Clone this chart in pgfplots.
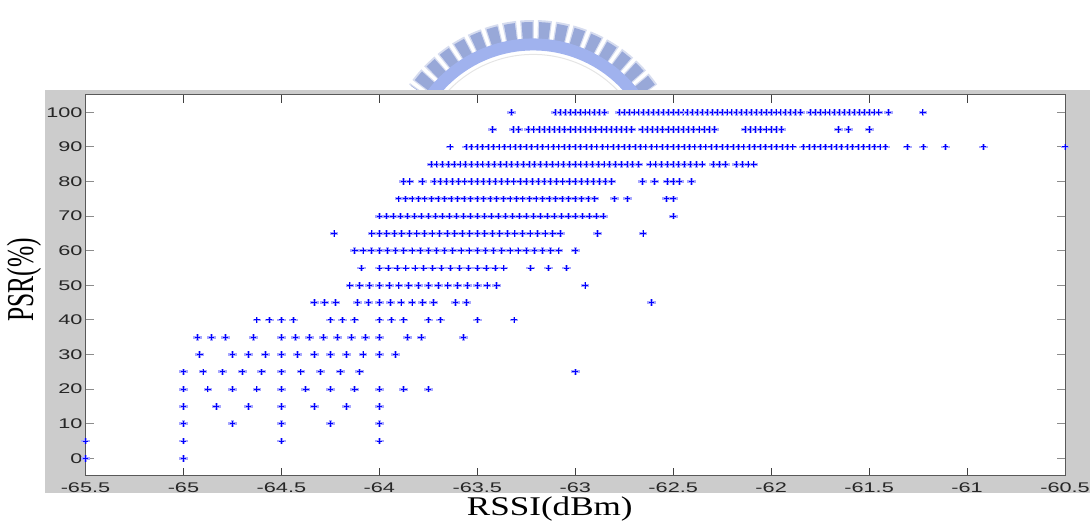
\documentclass[border=0pt]{standalone}
\usepackage{fontspec}
\usepackage{pgfplots}
\pgfplotsset{compat=1.18}
\setmainfont{Liberation Sans}
\newfontfamily\tickfont[FakeStretch=1.55]{Liberation Sans}
\newfontfamily\labfont[FakeStretch=1.3]{Liberation Serif}
\newfontfamily\ylabfont[FakeStretch=0.67]{Liberation Serif}
\definecolor{framegray}{HTML}{CCCCCC}
\definecolor{logoband}{HTML}{A0B2EE}
\definecolor{logotooth}{HTML}{98A8D8}
\definecolor{halo}{HTML}{A8A8FF}
\pgfdeclareplotmark{fuzzystar}{%
  \pgfscope
  \pgfsetcolor{halo}%
  \pgfpathrectangle{\pgfpoint{-4.4pt}{-1.4pt}}{\pgfpoint{8.8pt}{2.8pt}}\pgfusepath{fill}%
  \pgfpathrectangle{\pgfpoint{-1.4pt}{-3.3pt}}{\pgfpoint{2.8pt}{6.6pt}}\pgfusepath{fill}%
  \endpgfscope
  \pgfscope
  \pgfsetcolor{blue}\pgfsetlinewidth{1pt}%
  \pgfpathmoveto{\pgfpoint{-2.8pt}{0pt}}\pgfpathlineto{\pgfpoint{2.8pt}{0pt}}\pgfusepath{stroke}%
  \pgfpathmoveto{\pgfpoint{0pt}{-3.2pt}}\pgfpathlineto{\pgfpoint{0pt}{3.2pt}}\pgfusepath{stroke}%
  \endpgfscope
}
\begin{document}
\begin{tikzpicture}[x=1pt,y=1pt]
\useasboundingbox (0,0) rectangle (1090,526);
\begin{scope}
\clip (0,430) rectangle (1090,526);
\draw[logotooth!40,line width=23pt,dash pattern=on 13pt off 3.7pt] (533+140*0.82,355+140*0.57) arc[start angle=35,end angle=145,radius=140];
\draw[logotooth,line width=19pt,dash pattern=on 10.5pt off 6.2pt,dash phase=-1.2pt] (533+140*0.82,355+140*0.57) arc[start angle=35,end angle=145,radius=140];
\draw[logoband,line width=12pt] (533+127*0.82,355+127*0.57) arc[start angle=35,end angle=145,radius=127];
\draw[black!10,line width=1pt] (533+117*0.82,355+117*0.57) arc[start angle=35,end angle=145,radius=117];
\end{scope}
\fill[framegray] (45,33) rectangle (1090,436);
\begin{axis}[
  at={(85.5pt,50.3pt)},anchor=south west,
  scale only axis,width=979.5pt,height=380.7pt,
  xmin=-65.5,xmax=-60.5,ymin=-5,ymax=105,
  clip=false,
  axis background/.style={fill=white},
  axis line style={draw=black!65,line width=1pt},
  tick align=inside,
  xtick={-65.5,-65,-64.5,-64,-63.5,-63,-62.5,-62,-61.5,-61,-60.5},
  xticklabels={-65.5,-65,-64.5,-64,-63.5,-63,-62.5,-62,-61.5,-61,-60.5},
  ytick={0,10,20,30,40,50,60,70,80,90,100},
  xtick style={draw=black!75,line width=.8pt},
  ytick style={draw=black!45,line width=1pt},
  major tick length=8pt,
  tick label style={font=\tickfont\fontsize{14}{14}\selectfont,text=black!85},
  yticklabel style={xshift=0.5pt},
  xticklabel style={yshift=-3.5pt},
  yticklabel={\pgfmathprintnumber[assume math mode=true]{\tick}},
  xlabel={RSSI(dBm)},
  ylabel={PSR(\%)},
  xlabel style={font=\labfont\fontsize{27}{27}\selectfont,at={(rel axis cs:0.474,0)},anchor=center,yshift=-33.5pt},
  ylabel style={font=\ylabfont\fontsize{38}{38}\selectfont,at={(rel axis cs:0,0.5145)},anchor=center,yshift=61.5pt},
]
\addplot[only marks,mark=fuzzystar,blue] coordinates {
(-65.5,0)(-65,0)
(-65.5,5)(-65,5)(-64.5,5)(-64,5)
(-65,10)(-64.75,10)(-64.5,10)(-64.25,10)(-64,10)
(-65,15)(-64.833,15)(-64.667,15)(-64.5,15)(-64.333,15)(-64.167,15)(-64,15)
(-65,20)(-64.875,20)(-64.75,20)(-64.625,20)(-64.5,20)(-64.375,20)(-64.25,20)(-64.125,20)(-64,20)(-63.875,20)(-63.75,20)
(-65,25)(-64.9,25)(-64.8,25)(-64.7,25)(-64.6,25)(-64.5,25)(-64.4,25)(-64.3,25)(-64.2,25)(-64.1,25)(-63,25)
(-64.917,30)(-64.75,30)(-64.667,30)(-64.583,30)(-64.5,30)(-64.417,30)(-64.333,30)(-64.25,30)(-64.167,30)(-64.083,30)(-64,30)(-63.917,30)
(-64.929,35)(-64.857,35)(-64.786,35)(-64.643,35)(-64.5,35)(-64.429,35)(-64.357,35)(-64.286,35)(-64.214,35)(-64.143,35)(-64.071,35)(-64,35)(-63.857,35)(-63.786,35)(-63.571,35)
(-64.625,40)(-64.5625,40)(-64.5,40)(-64.4375,40)(-64.25,40)(-64.1875,40)(-64.125,40)(-64,40)(-63.9375,40)(-63.875,40)(-63.75,40)(-63.6875,40)(-63.5,40)(-63.3125,40)
(-64.333,45)(-64.278,45)(-64.222,45)(-64.111,45)(-64.056,45)(-64,45)(-63.944,45)(-63.889,45)(-63.833,45)(-63.778,45)(-63.722,45)(-63.611,45)(-63.556,45)(-62.611,45)
(-64.15,50)(-64.1,50)(-64.05,50)(-64,50)(-63.95,50)(-63.9,50)(-63.85,50)(-63.8,50)(-63.75,50)(-63.7,50)(-63.65,50)(-63.6,50)(-63.55,50)(-63.5,50)(-63.45,50)(-63.4,50)(-62.95,50)
(-64.091,55)(-64,55)(-63.955,55)(-63.909,55)(-63.864,55)(-63.818,55)(-63.773,55)(-63.727,55)(-63.682,55)(-63.636,55)(-63.591,55)(-63.545,55)(-63.5,55)(-63.455,55)(-63.409,55)(-63.364,55)(-63.227,55)(-63.136,55)(-63.045,55)
(-64.125,60)(-64.083,60)(-64.042,60)(-64,60)(-63.958,60)(-63.917,60)(-63.875,60)(-63.833,60)(-63.792,60)(-63.75,60)(-63.708,60)(-63.667,60)(-63.625,60)(-63.583,60)(-63.542,60)(-63.5,60)(-63.458,60)(-63.417,60)(-63.375,60)(-63.333,60)(-63.292,60)(-63.25,60)(-63.208,60)(-63.167,60)(-63.125,60)(-63.083,60)(-63,60)
(-64.231,65)(-64.038,65)(-64,65)(-63.962,65)(-63.923,65)(-63.885,65)(-63.846,65)(-63.808,65)(-63.769,65)(-63.731,65)(-63.692,65)(-63.654,65)(-63.615,65)(-63.577,65)(-63.538,65)(-63.5,65)(-63.462,65)(-63.423,65)(-63.385,65)(-63.346,65)(-63.308,65)(-63.269,65)(-63.231,65)(-63.192,65)(-63.154,65)(-63.115,65)(-63.077,65)(-62.885,65)(-62.654,65)
(-64,70)(-63.964,70)(-63.929,70)(-63.893,70)(-63.857,70)(-63.821,70)(-63.786,70)(-63.75,70)(-63.714,70)(-63.679,70)(-63.643,70)(-63.607,70)(-63.571,70)(-63.536,70)(-63.5,70)(-63.464,70)(-63.429,70)(-63.393,70)(-63.357,70)(-63.321,70)(-63.286,70)(-63.25,70)(-63.214,70)(-63.179,70)(-63.143,70)(-63.107,70)(-63.071,70)(-63.036,70)(-63,70)(-62.964,70)(-62.929,70)(-62.893,70)(-62.857,70)(-62.5,70)
(-63.9,75)(-63.867,75)(-63.833,75)(-63.8,75)(-63.767,75)(-63.733,75)(-63.7,75)(-63.667,75)(-63.633,75)(-63.6,75)(-63.567,75)(-63.533,75)(-63.5,75)(-63.467,75)(-63.433,75)(-63.4,75)(-63.367,75)(-63.333,75)(-63.3,75)(-63.267,75)(-63.233,75)(-63.2,75)(-63.167,75)(-63.133,75)(-63.1,75)(-63.067,75)(-63.033,75)(-63,75)(-62.967,75)(-62.933,75)(-62.9,75)(-62.8,75)(-62.733,75)(-62.533,75)(-62.5,75)
(-63.875,80)(-63.844,80)(-63.781,80)(-63.719,80)(-63.688,80)(-63.656,80)(-63.625,80)(-63.594,80)(-63.563,80)(-63.531,80)(-63.5,80)(-63.469,80)(-63.438,80)(-63.406,80)(-63.375,80)(-63.344,80)(-63.313,80)(-63.281,80)(-63.25,80)(-63.219,80)(-63.188,80)(-63.156,80)(-63.125,80)(-63.094,80)(-63.063,80)(-63.031,80)(-63,80)(-62.969,80)(-62.938,80)(-62.906,80)(-62.875,80)(-62.844,80)(-62.813,80)(-62.656,80)(-62.594,80)(-62.531,80)(-62.5,80)(-62.469,80)(-62.406,80)
(-63.735,85)(-63.706,85)(-63.676,85)(-63.647,85)(-63.618,85)(-63.588,85)(-63.559,85)(-63.529,85)(-63.5,85)(-63.471,85)(-63.441,85)(-63.412,85)(-63.382,85)(-63.353,85)(-63.324,85)(-63.294,85)(-63.265,85)(-63.235,85)(-63.206,85)(-63.176,85)(-63.147,85)(-63.118,85)(-63.088,85)(-63.059,85)(-63.029,85)(-63,85)(-62.971,85)(-62.941,85)(-62.912,85)(-62.882,85)(-62.853,85)(-62.824,85)(-62.794,85)(-62.765,85)(-62.735,85)(-62.706,85)(-62.676,85)(-62.618,85)(-62.588,85)(-62.559,85)(-62.529,85)(-62.5,85)(-62.471,85)(-62.441,85)(-62.412,85)(-62.382,85)(-62.353,85)(-62.294,85)(-62.265,85)(-62.235,85)(-62.176,85)(-62.147,85)(-62.118,85)(-62.088,85)
(-63.639,90)(-63.556,90)(-63.528,90)(-63.5,90)(-63.472,90)(-63.444,90)(-63.417,90)(-63.389,90)(-63.361,90)(-63.333,90)(-63.306,90)(-63.278,90)(-63.25,90)(-63.222,90)(-63.194,90)(-63.167,90)(-63.139,90)(-63.111,90)(-63.083,90)(-63.056,90)(-63.028,90)(-63,90)(-62.972,90)(-62.944,90)(-62.917,90)(-62.889,90)(-62.861,90)(-62.833,90)(-62.806,90)(-62.778,90)(-62.75,90)(-62.722,90)(-62.694,90)(-62.667,90)(-62.639,90)(-62.611,90)(-62.583,90)(-62.556,90)(-62.528,90)(-62.5,90)(-62.472,90)(-62.444,90)(-62.417,90)(-62.389,90)(-62.361,90)(-62.333,90)(-62.306,90)(-62.278,90)(-62.25,90)(-62.222,90)(-62.194,90)(-62.167,90)(-62.139,90)(-62.111,90)(-62.083,90)(-62.056,90)(-62.028,90)(-62,90)(-61.972,90)(-61.944,90)(-61.917,90)(-61.889,90)(-61.833,90)(-61.806,90)(-61.778,90)(-61.75,90)(-61.722,90)(-61.694,90)(-61.667,90)(-61.639,90)(-61.611,90)(-61.583,90)(-61.556,90)(-61.528,90)(-61.5,90)(-61.472,90)(-61.444,90)(-61.417,90)(-61.306,90)(-61.222,90)(-61.111,90)(-60.917,90)(-60.5,90)
(-63.421,95)(-63.316,95)(-63.289,95)(-63.237,95)(-63.211,95)(-63.184,95)(-63.158,95)(-63.132,95)(-63.105,95)(-63.079,95)(-63.053,95)(-63.026,95)(-63,95)(-62.974,95)(-62.947,95)(-62.921,95)(-62.895,95)(-62.868,95)(-62.842,95)(-62.816,95)(-62.789,95)(-62.763,95)(-62.737,95)(-62.711,95)(-62.658,95)(-62.632,95)(-62.605,95)(-62.579,95)(-62.553,95)(-62.526,95)(-62.5,95)(-62.474,95)(-62.447,95)(-62.421,95)(-62.395,95)(-62.368,95)(-62.342,95)(-62.316,95)(-62.289,95)(-62.132,95)(-62.105,95)(-62.079,95)(-62.053,95)(-62.026,95)(-62,95)(-61.974,95)(-61.947,95)(-61.658,95)(-61.605,95)(-61.5,95)
(-63.325,100)(-63.1,100)(-63.075,100)(-63.05,100)(-63.025,100)(-63,100)(-62.975,100)(-62.95,100)(-62.925,100)(-62.9,100)(-62.875,100)(-62.85,100)
(-62.775,100)(-62.75,100)(-62.725,100)(-62.7,100)(-62.675,100)(-62.65,100)(-62.625,100)(-62.6,100)(-62.575,100)(-62.55,100)(-62.525,100)(-62.5,100)(-62.475,100)(-62.45,100)(-62.425,100)(-62.4,100)(-62.375,100)(-62.35,100)(-62.325,100)(-62.3,100)(-62.275,100)(-62.25,100)(-62.225,100)(-62.2,100)(-62.175,100)(-62.15,100)(-62.125,100)(-62.1,100)(-62.075,100)(-62.05,100)(-62.025,100)(-62,100)(-61.975,100)(-61.95,100)(-61.925,100)(-61.9,100)(-61.875,100)(-61.85,100)
(-61.8,100)(-61.775,100)(-61.75,100)(-61.725,100)(-61.7,100)(-61.675,100)(-61.65,100)(-61.625,100)(-61.6,100)(-61.575,100)(-61.55,100)(-61.525,100)(-61.5,100)(-61.475,100)(-61.45,100)(-61.4,100)(-61.225,100)
};
\end{axis}
\end{tikzpicture}
\end{document}
